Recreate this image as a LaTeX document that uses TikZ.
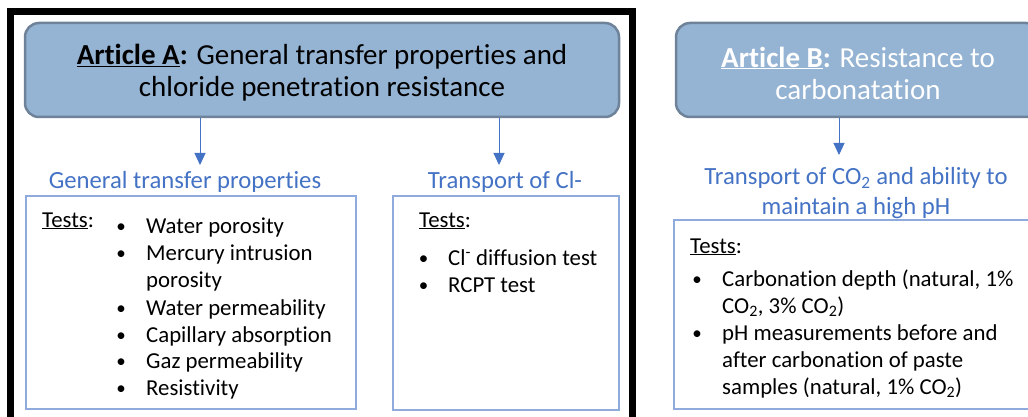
\documentclass[tikz,border=0pt]{standalone}
\usepackage{fontspec}
\setmainfont{Carlito}[Ligatures=NoCommon]
\usepackage{xcolor}
\usepackage{tikz}
\usetikzlibrary{positioning}
\usetikzlibrary{arrows.meta,shapes}
\definecolor{hdrfill}{HTML}{95B3D3}
\definecolor{hdrline}{HTML}{6E8399}
\definecolor{boxline}{HTML}{8FAADC}
\definecolor{lblblue}{HTML}{4472C4}
\tikzset{hdr/.style={rectangle,rounded corners=14pt,draw=hdrline,fill=hdrfill,line width=2.5pt}}
\tikzset{hdrtxt/.style={align=center,inner sep=0pt,font=\fontsize{29}{32}\selectfont}}
\tikzset{tbox/.style={rectangle,draw=boxline,line width=2.8pt}}
\tikzset{lbl/.style={text=lblblue,align=center,inner sep=0pt,font=\fontsize{24.7}{30}\selectfont}}
\tikzset{itm/.style={anchor=base west,inner sep=0pt,font=\fontsize{22.8}{27}\selectfont}}
\tikzset{bul/.style={anchor=base,inner sep=0pt,font=\fontsize{19}{27}\selectfont}}
\tikzset{arr/.style={draw=lblblue,line width=1pt,-{Triangle[width=11pt,length=12pt]}}}

\begin{document}
\begin{tikzpicture}[x=1pt,y=-1pt]
  \clip (0,0) rectangle (1028,417);

  % frame round article A
  \draw[line width=7pt] (10,425) -- (10,11.5) -- (632.5,11.5) -- (632.5,425);

  % headers
  \node[hdr,minimum width=594pt,minimum height=94pt] (artA) at (322,70) {};
  \node[hdrtxt] (txtA) at (322,73)
    {\underline{\textbf{Article A}}\textbf{:} General transfer properties and\\chloride penetration resistance};
  \node[hdr,minimum width=364pt,minimum height=94pt] (artB) at (858,70) {};
  \node[hdrtxt,text=white] (txtB) at (858,73)
    {\underline{\textbf{Article B}}\textbf{:} Resistance to\\carbonatation};

  % labels
  \node[lbl,anchor=base] (labA) at (185,188) {General transfer properties};
  \node[lbl,anchor=base] (labB) at (505,188) {Transport of Cl-};
  \node[lbl] (labC) at (856,193) {Transport of CO\textsubscript{2} and ability to\\maintain a high pH};

  \coordinate (tipA) at (200,165);
  \coordinate (tipB) at (499,165);
  \coordinate (tipC) at (839,155);
  \draw[arr] (artA.south -| tipA) -- (tipA);
  \draw[arr] (artA.south -| tipB) -- (tipB);
  \draw[arr] (artB.south -| tipC) -- (tipC);

  % test boxes
  \node[tbox,minimum width=330pt,minimum height=213pt] (boxA) at (191,302.5) {};
  \node[tbox,minimum width=226pt,minimum height=214pt] (boxB) at (506,303) {};
  \node[tbox,minimum width=366pt,minimum height=189pt] (boxC) at (857,314.5) {};

  \node[itm] (tstA) at (42,227) {\underline{Tests}:};
  \node[itm] (tstB) at (419,227) {\underline{Tests}:};
  \node[itm] (tstC) at (690,253) {\underline{Tests}:};

  \foreach \y/\b/\txt [count=\i] in {233/1/{Water porosity},260/1/{Mercury intrusion},287/0/{porosity},
      315/1/{Water permeability},342/1/{Capillary absorption},368/1/{Gaz permeability},395/1/{Resistivity}} {
    \node[itm] (itA\i) at (146,\y) {\txt};
    \ifnum\b=1 \node[bul] (buA\i) at (121,\y-1) {\textbullet}; \fi
  }

  \foreach \y/\txt [count=\i] in {265/{Cl\textsuperscript{-} diffusion test},292/{RCPT test}} {
    \node[itm] (itB\i) at (448,\y) {\txt};
    \node[bul] (buB\i) at (423.5,\y-1) {\textbullet};
  }

  \foreach \y/\b/\txt [count=\i] in {286/1/{Carbonation depth (natural, 1\%},313/0/{CO\textsubscript{2}, 3\% CO\textsubscript{2})},
      340/1/{pH measurements before and},367/0/{after carbonation of paste},394/0/{samples (natural, 1\% CO\textsubscript{2})}} {
    \node[itm] (itC\i) at (722,\y) {\txt};
    \ifnum\b=1 \node[bul] (buC\i) at (697,\y-1) {\textbullet}; \fi
  }

\end{tikzpicture}
\end{document}
